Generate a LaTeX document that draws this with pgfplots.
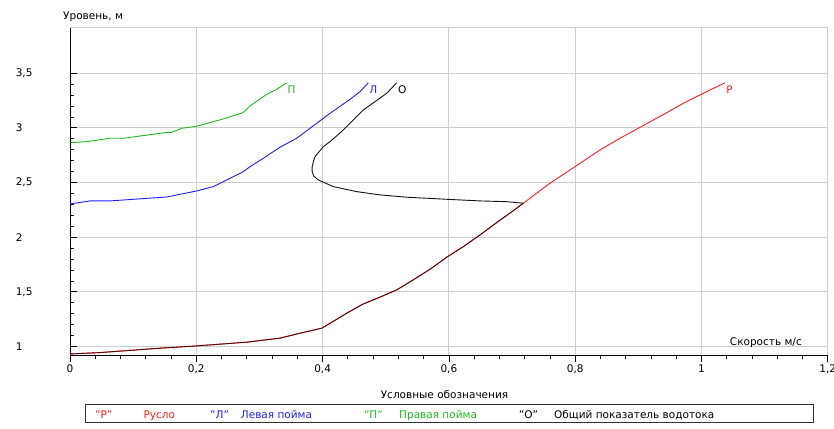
\documentclass[border=0pt]{standalone}
\usepackage{fontspec}
\setmainfont{DejaVu Sans}
\usepackage{pgfplots}
\pgfplotsset{compat=1.18}
\definecolor{cR}{RGB}{255,30,30}
\definecolor{cL}{RGB}{30,30,255}
\definecolor{cP}{RGB}{30,185,30}
\definecolor{cO}{RGB}{20,20,20}
\definecolor{cOR}{RGB}{85,10,10}
\definecolor{gridc}{RGB}{205,205,205}
\begin{document}
\begin{tikzpicture}[x=1pt,y=1pt]
\fontsize{10.5}{12}\selectfont
\path[use as bounding box] (0,0) rectangle (834,428);
\begin{axis}[
  at={(70pt,72.7pt)}, anchor=south west,
  scale only axis, width=757.8pt, height=328pt,
  xmin=0, xmax=1.2, ymin=0.92, ymax=3.92,
  axis x line*=bottom, axis y line*=left,
  axis line style={-, black, line width=1pt},
  xtick={0,0.2,0.4,0.6,0.8,1,1.2},
  ytick={1,1.5,2,2.5,3,3.5},
  minor x tick num=4, minor y tick num=4,
  xtick align=outside, ytick align=inside,
  major tick length=7pt, minor tick length=4pt,
  tick style={black, line width=0.8pt},
  grid=major, major grid style={gridc, line width=1pt},
  /pgf/number format/use comma,
  /pgf/number format/assume math mode=true,
  tick label style={font=\fontsize{10.5}{12}\selectfont},
  xticklabel style={anchor=north, inner sep=0pt, yshift=-2.5pt},
  yticklabel style={anchor=east, inner sep=0pt, xshift=-30pt},
  yticklabel={\makebox[24pt][l]{\pgfmathprintnumber{\tick}}},
  clip=false,
]
\draw[gridc, line width=1pt] (rel axis cs:0,1) -- (rel axis cs:1,1);
% Р
\addplot[cR, line width=0.9pt] coordinates {
(0.000,0.932) (0.0475,0.945) (0.1425,0.985) (0.2006,1.006) (0.2798,1.040)
(0.3325,1.077) (0.3642,1.122) (0.3986,1.168) (0.4117,1.212) (0.4382,1.305)
(0.4645,1.390) (0.4909,1.452) (0.5173,1.518) (0.5436,1.610) (0.5701,1.707)
(0.5965,1.817) (0.6228,1.914) (0.6492,2.021) (0.6757,2.134) (0.7020,2.243)
(0.7178,2.311) (0.7601,2.494) (0.7997,2.645) (0.8393,2.798) (0.8709,2.905)
(0.9026,3.005) (0.9449,3.139) (0.9712,3.225) (0.9976,3.301) (1.0372,3.413)
} node[pos=1, anchor=north west, inner sep=0pt, xshift=1pt, yshift=-2.5pt, text=cR] {Р};
% О (lower part, coincides with Р)
\addplot[cOR, line width=0.9pt] coordinates {
(0.000,0.932) (0.0475,0.945) (0.1425,0.985) (0.2006,1.006) (0.2798,1.040)
(0.3325,1.077) (0.3642,1.122) (0.3986,1.168) (0.4117,1.212) (0.4382,1.305)
(0.4645,1.390) (0.4909,1.452) (0.5173,1.518) (0.5436,1.610) (0.5701,1.707)
(0.5965,1.817) (0.6228,1.914) (0.6492,2.021) (0.6757,2.134) (0.7020,2.243)
(0.7178,2.311)
};
% О (upper branch)
\addplot[cO, line width=0.9pt] coordinates {
(0.7178,2.311) (0.6915,2.325) (0.6492,2.332) (0.5965,2.347) (0.5332,2.366)
(0.4909,2.387) (0.4540,2.417) (0.4169,2.463) (0.3932,2.524) (0.3858,2.560)
(0.3835,2.600) (0.3835,2.645) (0.3858,2.700) (0.3880,2.737) (0.4011,2.828)
(0.4117,2.874) (0.4328,2.981) (0.4645,3.164) (0.5015,3.316) (0.5173,3.413)
} node[pos=1, anchor=north west, inner sep=0pt, xshift=1pt, yshift=-2.5pt, text=black] {О};
% Л
\addplot[cL, line width=0.9pt] coordinates {
(0,2.304) (0.0317,2.332) (0.0633,2.332) (0.1531,2.368) (0.2006,2.423)
(0.2269,2.463) (0.2428,2.508) (0.2534,2.539) (0.2744,2.600) (0.2850,2.645)
(0.3061,2.722) (0.3325,2.823) (0.3590,2.905) (0.3800,2.996) (0.4117,3.133)
(0.4434,3.261) (0.4592,3.331) (0.4724,3.413)
} node[pos=1, anchor=north west, inner sep=0pt, xshift=0.5pt, yshift=-2.5pt, text=cL] {Л};
% П
\addplot[cP, line width=0.9pt] coordinates {
(0,2.865) (0.0264,2.874) (0.0633,2.905) (0.0844,2.905) (0.1504,2.956)
(0.1610,2.960) (0.1769,2.996) (0.2006,3.015) (0.2269,3.057) (0.2423,3.081)
(0.2740,3.139) (0.2850,3.200) (0.3115,3.307) (0.3273,3.353) (0.3432,3.413)
} node[pos=1, anchor=north west, inner sep=0pt, xshift=0.5pt, yshift=-2.5pt, text=cP] {П};
\end{axis}
% axis titles
\node[anchor=base west, inner sep=0pt] at (63,408) {Уровень, м};
\node[anchor=base east, inner sep=0pt] at (802,82) {Скорость м/с};
% legend
\node[anchor=base, inner sep=0pt] at (444.5,29.5) {Условные обозначения};
\draw[black!80, line width=1pt] (85,5.7) rectangle (813,23.5);
\node[anchor=base west, inner sep=0pt, text=cR] at (95,9.3) {\symbol{34}Р\symbol{34}};
\node[anchor=base west, inner sep=0pt, text=cR] at (143.3,9.3) {Русло};
\node[anchor=base west, inner sep=0pt, text=cL] at (210,9.3) {\symbol{34}Л\symbol{34}};
\node[anchor=base west, inner sep=0pt, text=cL] at (240.7,9.3) {Левая пойма};
\node[anchor=base west, inner sep=0pt, text=cP] at (363.8,9.3) {\symbol{34}П\symbol{34}};
\node[anchor=base west, inner sep=0pt, text=cP] at (399,9.3) {Правая пойма};
\node[anchor=base west, inner sep=0pt] at (518.7,9.3) {\symbol{34}О\symbol{34}};
\node[anchor=base west, inner sep=0pt] at (554,9.3) {Общий показатель водотока};
\end{tikzpicture}
\end{document}
